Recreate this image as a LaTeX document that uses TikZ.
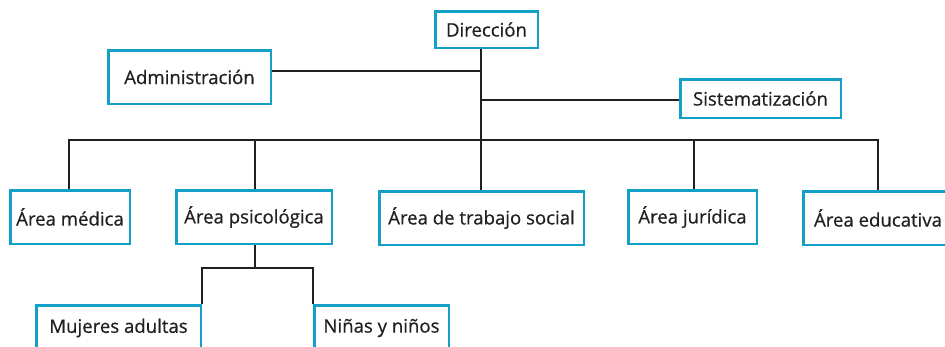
\documentclass[tikz,border=0pt]{standalone}
\usepackage{fontspec}
\setmainfont{Open Sans}[FakeBold=0.6]
\definecolor{boxblue}{RGB}{18,160,200}
\definecolor{linegray}{RGB}{35,31,32}
\begin{document}
\begin{tikzpicture}[x=1pt,y=-1pt,
  box/.style={draw=boxblue,line width=2.5pt,fill=white,inner sep=0pt,font=\fontsize{18.6}{20}\selectfont,text=linegray},
  conn/.style={draw=linegray,line width=2.4pt}]
\clip (0,0) rectangle (945,346);
\fill[white] (0,0) rectangle (945,346);
% coordinates
\coordinate (bus) at (481,140);
\coordinate (ja) at (481,71);
\coordinate (js) at (481,100);
\coordinate (sb) at (255,268);
\coordinate (dmed) at (69,140);
\coordinate (dpsi) at (255,140);
\coordinate (djur) at (694,140);
\coordinate (dedu) at (878,140);
% boxes
\node[box,minimum width=102.5pt,minimum height=36.5pt] (dir) at (486.5,29.5) {Dirección};
\node[box,minimum width=162.5pt,minimum height=53.5pt] (adm) at (189.5,77) {Administración};
\node[box,minimum width=160.5pt,minimum height=38.5pt] (sis) at (760.5,98.5) {Sistematización};
\node[box,minimum width=119.5pt,minimum height=53.5pt] (med) at (70,217) {Área médica};
\node[box,minimum width=155.5pt,minimum height=53.5pt] (psi) at (254,217) {Área psicológica};
\node[box,minimum width=204.5pt,minimum height=53.5pt] (tra) at (481.5,218) {Área de trabajo social};
\node[box,minimum width=128.5pt,minimum height=53.5pt] (jur) at (692.5,217) {Área jurídica};
\node[box,minimum width=149.5pt,minimum height=53.5pt] (edu) at (878,218) {Área educativa};
\node[box,minimum width=164.5pt,minimum height=45.5pt] (muj) at (118.5,328) {Mujeres adultas};
\node[box,minimum width=134.5pt,minimum height=45.5pt] (nin) at (381.5,328) {Niñas y niños};
% connectors
\draw[conn] (dir.south -| bus) -- (bus);
\draw[conn] (adm.east |- ja) -- (ja);
\draw[conn] (js) -- (sis.west |- js);
\draw[conn] (med.north -| dmed) -- (dmed) -- (dedu) -- (edu.north -| dedu);
\draw[conn] (psi.north -| dpsi) -- (dpsi);
\draw[conn] (tra.north -| bus) -- (bus);
\draw[conn] (jur.north -| djur) -- (djur);
\draw[conn] (psi.south -| sb) -- (sb);
\draw[conn] (muj.north east) |- (sb) -| (nin.north west);
\end{tikzpicture}
\end{document}
